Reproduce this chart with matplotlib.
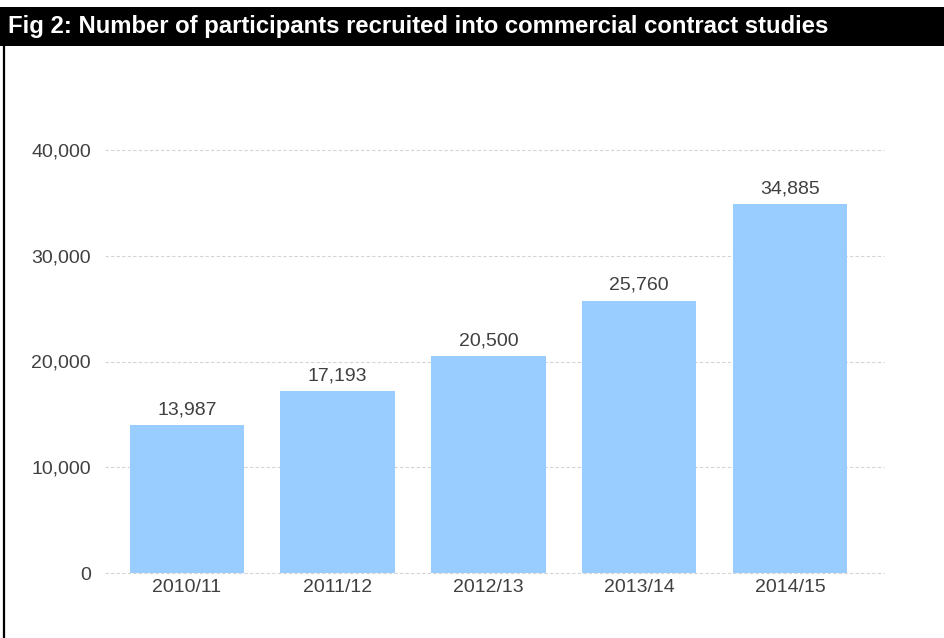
import matplotlib.pyplot as plt
from matplotlib.patches import Rectangle
from matplotlib.lines import Line2D

plt.rcParams['font.family'] = ['Liberation Sans', 'DejaVu Sans']

years = ['2010/11', '2011/12', '2012/13', '2013/14', '2014/15']
participants = [13987, 17193, 20500, 25760, 34885]
yticks = [0, 10000, 20000, 30000, 40000]

W, H = 944, 638
fig = plt.figure(figsize=(W / 100, H / 100), dpi=100)

# black title band and left frame line
fig.patches.append(Rectangle((0, 1 - 46 / H), 1, 39 / H, transform=fig.transFigure,
                             facecolor='black', edgecolor='none', zorder=0))
fig.lines.append(Line2D([4 / W, 4 / W], [0, 1 - 46 / H], transform=fig.transFigure,
                        color='black', lw=1.6))
fig.text(8 / W, 1 - 27 / H, 'Fig 2: Number of participants recruited into commercial contract studies',
         color='white', fontsize=17.2, fontweight='bold', va='center', ha='left')

ax = fig.add_axes([105 / W, (H - 573) / H, (884 - 105) / W, (573 - 150) / H])
x = range(len(years))
bars = ax.bar(x, participants, width=0.76, color='#99ccff', zorder=2)
ax.set_xlim(-0.544, 4.624)
ax.set_ylim(0, 40000)
ax.set_yticks(yticks)
ax.set_yticklabels([f'{v:,}' for v in yticks])
ax.set_xticks(list(x))
ax.set_xticklabels(years)
ax.tick_params(length=0, labelsize=14, colors='#404040')
ax.tick_params(axis='y', pad=10)
ax.tick_params(axis='x', pad=4)
ax.grid(axis='y', color='#d4d4d4', linestyle=(0, (3, 2)), lw=0.8, zorder=0)
for gl in ax.get_ygridlines():
    gl.set_clip_on(False)
for s in ax.spines.values():
    s.set_visible(False)

for b, v in zip(bars, participants):
    ax.annotate(f'{v:,}', (b.get_x() + b.get_width() / 2, v), xytext=(0, 5),
                textcoords='offset points', ha='center', va='bottom',
                fontsize=14, color='#404040')

fig.savefig('out.png', dpi=100)
